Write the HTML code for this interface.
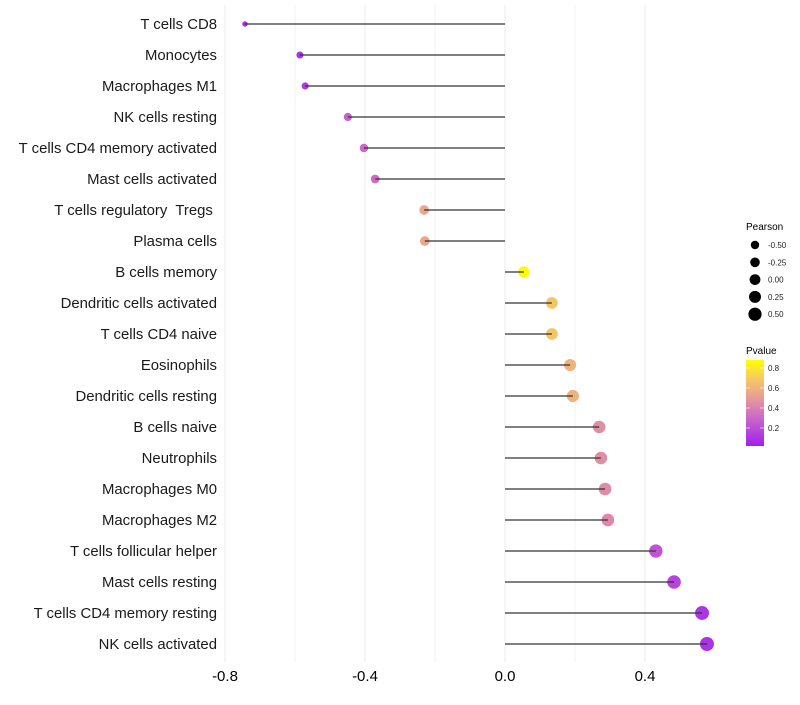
<!DOCTYPE html>
<html><head><meta charset="utf-8"><style>
body{margin:0;background:#fff;}
svg text{font-family:"Liberation Sans",sans-serif;white-space:pre;}
</style></head><body>
<svg id="chart" width="800" height="700" xmlns="http://www.w3.org/2000/svg">
<defs><linearGradient id="pg" x1="0" y1="1" x2="0" y2="0">
<stop offset="0" stop-color="#a020f0"/><stop offset="0.33" stop-color="#cc68c8"/><stop offset="0.55" stop-color="#e59a9a"/><stop offset="0.78" stop-color="#f5c864"/><stop offset="1" stop-color="#ffff00"/>
</linearGradient></defs>
<g id="grid"></g><g id="marks"></g><g id="labels"></g><g id="xticks"></g>
<g id="legend">
<text x="746" y="230" font-size="10" fill="#000">Pearson</text>
<text x="746" y="354" font-size="10" fill="#000">Pvalue</text>
<rect x="746" y="360" width="18" height="86" fill="url(#pg)"/>
</g>
</svg>
<script>
const categories=["T cells CD8","Monocytes","Macrophages M1","NK cells resting","T cells CD4 memory activated","Mast cells activated","T cells regulatory  Tregs ","Plasma cells","B cells memory","Dendritic cells activated","T cells CD4 naive","Eosinophils","Dendritic cells resting","B cells naive","Neutrophils","Macrophages M0","Macrophages M2","T cells follicular helper","Mast cells resting","T cells CD4 memory resting","NK cells activated"];
const pearson=[-0.743,-0.586,-0.571,-0.449,-0.403,-0.371,-0.231,-0.229,0.054,0.134,0.134,0.186,0.194,0.269,0.274,0.286,0.294,0.431,0.483,0.563,0.577];
const pvalue=[0.08,0.1,0.12,0.28,0.3,0.32,0.55,0.55,0.86,0.68,0.68,0.6,0.6,0.45,0.45,0.44,0.43,0.22,0.16,0.1,0.09];
const xTicks=[-0.8,-0.4,0.0,0.4];
const xMinor=[-0.6,-0.2,0.2];
const sizeLegend=[-0.5,-0.25,0,0.25,0.5];
const colorLegend=[0.8,0.6,0.4,0.2];
const NS="http://www.w3.org/2000/svg";
const X=v=>505+v*350;
const Y=i=>24+i*31;
const pMin=0.02,pMax=0.88;
const CY=p=>446-(p-pMin)/(pMax-pMin)*86;
const R=v=>Math.sqrt(Math.max(2.25,30.8+31.6*v));
const stops=[[0,[160,32,240]],[0.33,[204,104,200]],[0.55,[229,154,154]],[0.78,[245,200,100]],[1,[255,255,0]]];
function col(p){let t=Math.max(0,Math.min(1,(p-pMin)/(pMax-pMin)));for(let k=1;k<stops.length;k++){if(t<=stops[k][0]){const a=stops[k-1],b=stops[k],f=(t-a[0])/(b[0]-a[0]);return 'rgb('+a[1].map((c,j)=>Math.round(c+(b[1][j]-c)*f)).join(',')+')';}}return 'rgb(255,255,0)';}
function mk(tag,attrs,parent){const e=document.createElementNS(NS,tag);for(const k in attrs)e.setAttribute(k,attrs[k]);parent.appendChild(e);return e;}
const grid=document.getElementById('grid'),marks=document.getElementById('marks'),labels=document.getElementById('labels'),xt=document.getElementById('xticks'),leg=document.getElementById('legend');
xTicks.concat(xMinor).forEach(v=>{const l=mk('line',{x1:X(v),x2:X(v),y1:5,y2:662,stroke:'#ebebeb','stroke-width':xMinor.includes(v)?0.6:1},grid);

});
xTicks.forEach(v=>{const t=mk('text',{x:X(v),y:681,'font-size':15,'text-anchor':'middle',fill:'#000'},xt);t.textContent=v.toFixed(1);

});
categories.forEach((c,i)=>{
const t=mk('text',{x:217,y:Y(i)+5,'font-size':14.9,'text-anchor':'end',fill:'#1a1a1a'},labels);t.textContent=c;


const d=mk('circle',{cx:X(pearson[i]),cy:Y(i),r:R(pearson[i]),fill:col(pvalue[i])},marks);


const l=mk('line',{x1:X(0),x2:X(pearson[i]),y1:Y(i),y2:Y(i),stroke:'#333','stroke-width':1.3},marks);


});
sizeLegend.forEach((v,k)=>{const cy=245+k*17.3;
const c=mk('circle',{cx:755,cy:cy,r:4.2+k*0.6,fill:'#000'},leg);


const t=mk('text',{x:768,y:cy+3,'font-size':8,fill:'#222'},leg);t.textContent=v.toFixed(2);

});
colorLegend.forEach(p=>{const y=CY(p);
mk('line',{x1:746,x2:750,y1:y,y2:y,stroke:'#fff','stroke-width':0.6},leg);
mk('line',{x1:760,x2:764,y1:y,y2:y,stroke:'#fff','stroke-width':0.6},leg);
const t=mk('text',{x:768,y:y+3,'font-size':8,fill:'#222'},leg);t.textContent=p.toFixed(1);

});
</script>
</body></html>
